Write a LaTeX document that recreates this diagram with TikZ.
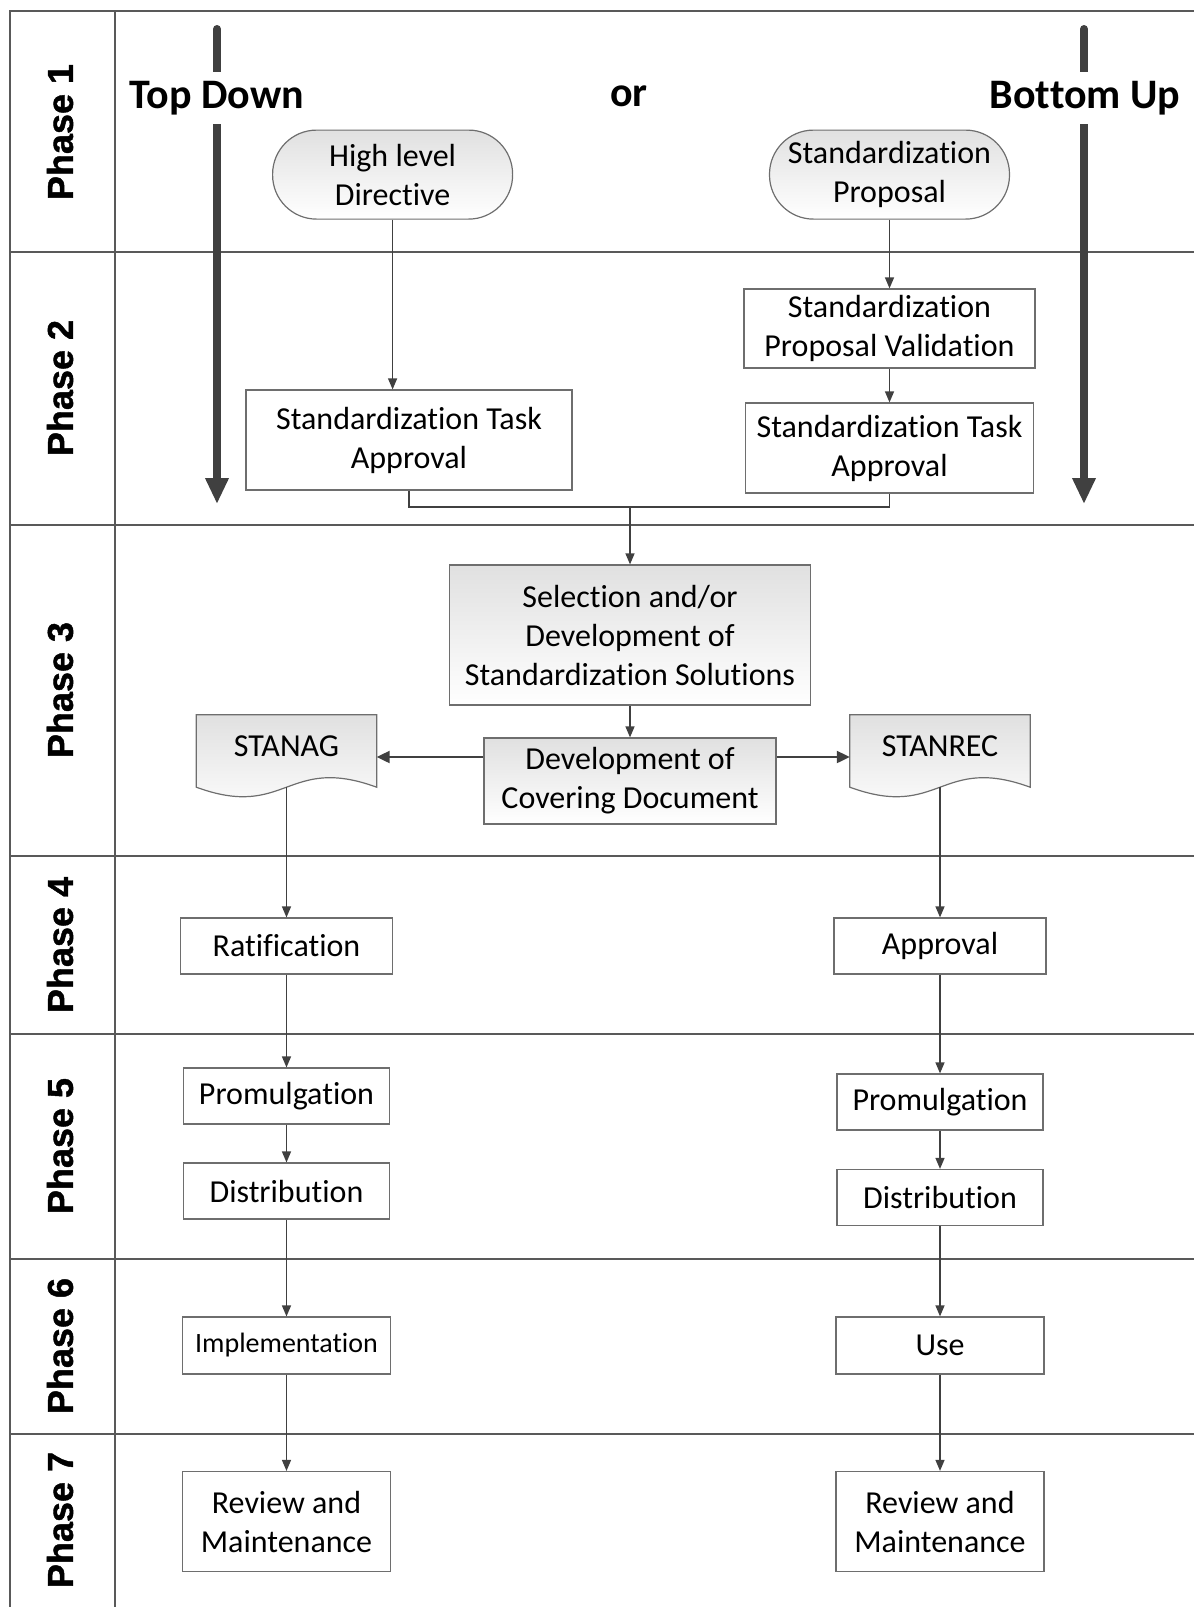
\documentclass[tikz,border=0pt]{standalone}
\usepackage{fontspec}
\setmainfont{Carlito}[Ligatures=NoCommon]
\newfontfamily\phasefont{Liberation Sans}[BoldFeatures={FakeBold=1.2}]
\usetikzlibrary{arrows.meta,calc,backgrounds}
\definecolor{ln}{HTML}{404040}
\definecolor{bd}{HTML}{6E6E6E}
\begin{document}
\begin{tikzpicture}[x=1pt,y=-1pt,
  every node/.style={font=\fontsize{32}{39}\selectfont, align=center, inner sep=0pt},
  box/.style={draw=bd, line width=1.2pt, fill=white},
  shbox/.style={draw=bd, line width=1.2pt, top color=black!12, bottom color=white},
  term/.style={shbox, rounded corners=44pt},
  conn/.style={draw=ln, line width=1.3pt},
  arr/.style={conn, -{Triangle[length=11pt,width=9pt]}},
  arrb/.style={draw=ln, line width=2.2pt, -{Triangle[length=13pt,width=12pt]}},
  big/.style={draw=ln, line width=8pt, line cap=round, -{Triangle[length=26pt,width=22pt]}},
  bigtxt/.style={font=\fontsize{42}{50}\selectfont\bfseries, fill=white, inner xsep=3pt, inner ysep=9pt},
  phase/.style={font=\phasefont\bfseries\fontsize{36}{42}\selectfont, rotate=90},
  frame/.style={draw=black!65, line width=1.8pt},
  docn/.style={minimum width=180pt, minimum height=84pt}
]
\useasboundingbox (0,0) rectangle (1194,1607);

% frame
\draw[frame] (10,1607) -- (10,11) -- (1194,11);
\draw[frame] (115,11) -- (115,1607);
\foreach \yy in {252,525,856,1034,1259,1434} {
  \draw[frame] (10,\yy) -- (1194,\yy);
}

% phase labels
\node[phase] (p1) at (60,132) {Phase 1};
\node[phase] (p2) at (60,388) {Phase 2};
\node[phase] (p3) at (60,690) {Phase 3};
\node[phase] (p4) at (60,945) {Phase 4};
\node[phase] (p5) at (60,1146) {Phase 5};
\node[phase] (p6) at (60,1346) {Phase 6};
\node[phase] (p7) at (60,1520) {Phase 7};

% big arrows
\coordinate (tdtop) at (217,29);
\coordinate (tdbot) at (217,504);
\coordinate (butop) at (1084,29);
\coordinate (bubot) at (1084,504);
\draw[big] (tdtop) -- (tdbot);
\draw[big] (butop) -- (bubot);
\node[bigtxt] (td) at (217,98) {Top Down};
\node[bigtxt, fill=none] (or) at (629,96) {or};
\node[bigtxt] (bu) at (1085,98) {Bottom Up};

% phase 1-2
\node[term, minimum width=240pt, minimum height=89pt] (hld) at (392.6,174.6) {High level\\Directive};
\node[term, minimum width=240pt, minimum height=89pt] (sp) at (889.5,174.6) {Standardization\\Proposal};
\node[box, minimum width=326pt, minimum height=100pt] (tal) at (409,440) {Standardization Task\\Approval};
\node[box, minimum width=291pt, minimum height=79pt] (spv) at (889.5,328.5) {Standardization\\Proposal Validation};
\node[box, minimum width=288pt, minimum height=90pt] (tar) at (889.5,448) {Standardization Task\\Approval};
\coordinate (j) at (630,507);

% phase 3
\node[shbox, minimum width=361pt, minimum height=140pt] (sel) at (630,635) {Selection and/or\\Development of\\Standardization Solutions};
\node[shbox, minimum width=292pt, minimum height=86pt] (dev) at (630,781) {Development of\\Covering Document};
\node[docn] (stanag) at (286.5,757) {\raisebox{11pt}[\height][\depth]{STANAG}};
\node[docn] (stanrec) at (940,757) {\raisebox{11pt}[\height][\depth]{STANREC}};
\begin{scope}[on background layer]
\foreach \d in {stanag,stanrec} {
  \path[shbox] (\d.north west) -- (\d.north east) -- ($(\d.south east)+(0,12pt)$)
     .. controls ($(\d.south)+(0,45pt)$) and ($(\d.south)+(0,-21pt)$) .. ($(\d.south west)+(0,12pt)$) -- cycle;
}
\end{scope}
\coordinate (stanagw) at ($(stanag.south)+(0,12pt)$);
\coordinate (stanrecw) at ($(stanrec.south)+(0,12pt)$);

% left column
\node[box, minimum width=212pt, minimum height=56pt] (ratif) at (286.5,946) {Ratification};
\node[box, minimum width=206pt, minimum height=56pt] (proml) at (286.5,1096) {Promulgation};
\node[box, minimum width=206pt, minimum height=56pt] (distl) at (286.5,1191) {Distribution};
\node[box, minimum width=208pt, minimum height=57pt, font=\fontsize{28}{34}\selectfont] (impl) at (286.5,1345.5) {Implementation};
\node[box, minimum width=208pt, minimum height=100pt] (revl) at (286.5,1521.5) {Review and\\Maintenance};

% right column
\node[box, minimum width=212pt, minimum height=56pt] (appr) at (940,946) {Approval};
\node[box, minimum width=206pt, minimum height=56pt] (promr) at (940,1102) {Promulgation};
\node[box, minimum width=206pt, minimum height=56pt] (distr) at (940,1197.5) {Distribution};
\node[box, minimum width=208pt, minimum height=57pt] (use) at (940,1345.5) {Use};
\node[box, minimum width=208pt, minimum height=100pt] (revr) at (940,1521.5) {Review and\\Maintenance};

% connectors
\draw[arr] (hld.south) -- (hld.south |- tal.north);
\draw[arr] (sp) -- (spv);
\draw[arr] (spv) -- (tar);
\draw[conn] (tal.south) |- (j) -| (tar.south);
\draw[arr] (j) -- (sel.north);
\draw[arr] (sel) -- (dev);
\draw[arrb] (dev.west |- stanag.east) -- (stanag.east);
\draw[arrb] (dev.east |- stanrec.west) -- (stanrec.west);
\draw[arr] (stanagw) -- (ratif.north);
\draw[arr] (ratif) -- (proml);
\draw[arr] (proml) -- (distl);
\draw[arr] (distl) -- (impl);
\draw[arr] (impl) -- (revl);
\draw[arr] (stanrecw) -- (appr.north);
\draw[arr] (appr) -- (promr);
\draw[arr] (promr) -- (distr);
\draw[arr] (distr) -- (use);
\draw[arr] (use) -- (revr);
\end{tikzpicture}
\end{document}
